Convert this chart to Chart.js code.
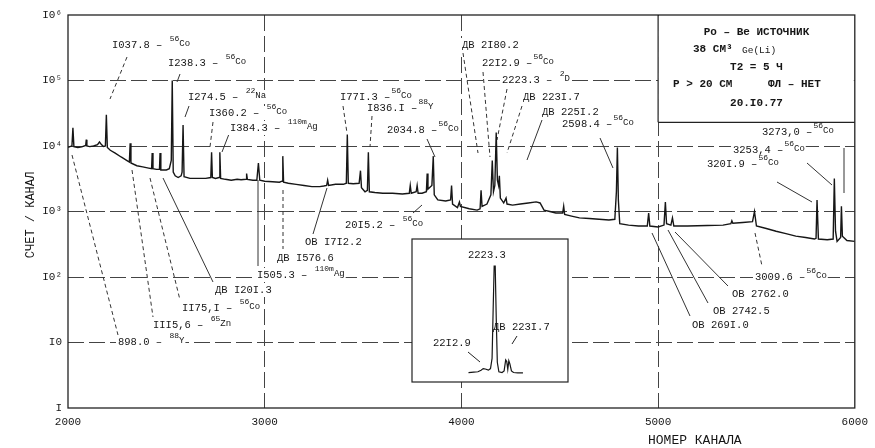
<!DOCTYPE html>
<html>
<head>
<meta charset="utf-8">
<script src="https://cdn.jsdelivr.net/npm/chart.js@4.4.1/dist/chart.umd.min.js"></script>
<style>
  html, body { margin: 0; padding: 0; background: #fff; }
  #wrap { position: relative; width: 875px; height: 448px; }
  #main { position: absolute; left: 0; top: 0; }
  #inset { position: absolute; left: 413px; top: 240px; }
</style>
</head>
<body>
<div id="wrap">
  <canvas id="main" width="875" height="448"></canvas>
  <canvas id="inset" width="155" height="142"></canvas>
</div>
<script>
// ---- данные спектра (номер канала / счет) ----
const channels = [
  2000, 2010, 2020, 2025, 2030, 2050, 2070, 2090, 2093, 2096, 2110, 2130, 2150, 2160, 2170, 2180, 2190, 2195, 2200,
  2215, 2240, 2270, 2300, 2312, 2316, 2320, 2350, 2380, 2410, 2425, 2428, 2432, 2450, 2465, 2468, 2472, 2500, 2515,
  2525, 2530, 2535, 2545, 2560, 2575, 2580, 2585, 2590,
  2620, 2660, 2700, 2726, 2730, 2734, 2750, 2768, 2772, 2776, 2800, 2830, 2860, 2880, 2905, 2908, 2912, 2940, 2960,
  2968, 2975, 3000, 3040, 3075, 3088, 3092, 3096,
  3120, 3160, 3200, 3240, 3280, 3300, 3315, 3320, 3325, 3360, 3400, 3415, 3420, 3425, 3450, 3480, 3487, 3492, 3510,
  3522, 3527, 3532,
  3560, 3600, 3650, 3700, 3735, 3740, 3745, 3770, 3775, 3780, 3800, 3822, 3826, 3830, 3850, 3857, 3862, 3880, 3920,
  3945, 3950, 3955, 3980, 3990, 3995,
  4040, 4080, 4095, 4100, 4105, 4130, 4150, 4157, 4163, 4170, 4177, 4183, 4189, 4193, 4198, 4215, 4227, 4232, 4260,
  4300, 4340, 4380, 4400, 4420, 4450, 4480, 4515, 4520, 4525,
  4560, 4600, 4650, 4700, 4750, 4780, 4788, 4793, 4798, 4805, 4850, 4900, 4945, 4952, 4958, 5000, 5030, 5037, 5043,
  5065, 5073, 5080, 5150, 5250, 5330, 5370, 5375, 5380, 5430, 5480, 5490, 5500,
  5550, 5600, 5650, 5700, 5750, 5795, 5803, 5808, 5815, 5860, 5890, 5896, 5902, 5910, 5928, 5932, 5937, 5960, 6000
];
const counts = [
  9500, 9800, 10000, 19000, 9800, 9500, 9700, 10200, 12500, 10000, 9800, 10000, 10500, 11500, 10500, 9800, 10000, 30000, 9500,
  8600, 7800, 6800, 6000, 5700, 11000, 5500, 5000, 4800, 4600, 4500, 7800, 4500, 4400, 4400, 7800, 4300, 4300, 4500,
  6000, 100000, 4000, 3500, 3300, 3500, 4000, 21000, 3400,
  3200, 3200, 3200, 3300, 8000, 3300, 3200, 3300, 8000, 3200, 3100, 3000, 3100, 3050, 3100, 3800, 3100, 3000, 3000,
  5500, 3000, 2900, 2850, 2800, 2900, 7000, 2800,
  2700, 2600, 2500, 2400, 2400, 2450, 2500, 3000, 2500, 2600, 2600, 2700, 15000, 2700, 2650, 2700, 4200, 2300, 2000,
  2100, 8000, 2000,
  1950, 1900, 1900, 1850, 1900, 2500, 1900, 2000, 2500, 1900, 1900, 2000, 3800, 2200, 2500, 7000, 1800, 1500, 1450,
  1500, 2500, 1300, 1150, 1400, 1200,
  1100, 1050, 1100, 2100, 1200, 1300, 1800, 6000, 2000, 2500, 16000, 3000, 2500, 3500, 1600, 1350, 1600, 1300, 1250,
  1300, 1350, 1400, 1350, 1050, 1000, 950, 950, 1200, 900,
  850, 800, 780, 760, 740, 760, 2000, 9500, 1500, 650, 620, 600, 600, 950, 600, 580, 620, 1400, 650,
  620, 800, 600, 600, 610, 620, 650, 720, 660, 680, 700, 1000, 600,
  550, 500, 460, 420, 400, 380, 390, 1500, 380, 370, 380, 3200, 500, 350, 400, 1200, 420, 360, 350
];

// ---- врезка: пик 2223.3 в растянутом масштабе (кэВ / счет) ----
const insetKeV = [2198, 2203, 2207, 2210, 2212, 2214, 2217, 2219, 2220.5, 2221.5, 2222.5, 2223.5, 2224.5, 2225.5,
  2227, 2230, 2232, 2233.5, 2234.5, 2235.5, 2236.5, 2237.5, 2239, 2241, 2245, 2250];
const insetCounts = [1200, 1250, 1300, 1500, 1700, 1650, 1500, 1700, 3000, 9000, 14700, 14700, 8000, 2500,
  1300, 1200, 1400, 2800, 2600, 1600, 2700, 2300, 1400, 1200, 1150, 1150];

// ---- оси ----
const xTicks = [2000, 3000, 4000, 5000, 6000];
const yTicks = [1, 10, 100, 1000, 10000, 100000, 1000000];
const yTickLabels = ['I', 'I0', 'I0²', 'I0³', 'I0⁴', 'I0⁵', 'I0⁶'];

// ---- подписи линий: текст, верхний индекс, хвост ----
const noteTexts = [
  ['I037.8 – ', '56', 'Co'], ['I238.3 – ', '56', 'Co'], ['I274.5 – ', '22', 'Na'], ['I360.2 – ', '56', 'Co'],
  ['I384.3 – ', '110m', 'Ag'], ['I77I.3 –', '56', 'Co'], ['I836.I –', '88', 'Y'], ['2034.8 –', '56', 'Co'],
  ['ДВ 2I80.2', '', ''], ['22I2.9 –', '56', 'Co'], ['2223.3 – ', '2', 'D'], ['ДВ 223I.7', '', ''],
  ['ДВ 225I.2', '', ''], ['2598.4 –', '56', 'Co'], ['3273,0 –', '56', 'Co'], ['3253,4 –', '56', 'Co'],
  ['320I.9 –', '56', 'Co'], ['3009.6 –', '56', 'Co'], ['ОВ 2762.0', '', ''], ['ОВ 2742.5', '', ''],
  ['ОВ 269I.0', '', ''], ['20I5.2 – ', '56', 'Co'], ['ОВ I7I2.2', '', ''], ['ДВ I576.6', '', ''],
  ['I505.3 – ', '110m', 'Ag'], ['ДВ I20I.3', '', ''], ['II75,I – ', '56', 'Co'], ['III5,6 – ', '65', 'Zn'],
  ['898.0 – ', '88', 'Y']
];
// x, y текста; x1, y1, x2, y2 выноски; штрих
const notePlaces = [
  [112, 45, 127, 57, 110, 99, 1], [168, 63, 180, 74, 177, 82, 0], [188, 97, 189, 106, 185, 117, 0],
  [209, 113, 213, 122, 210, 147, 1], [230, 128, 229, 134, 222, 152, 0], [340, 97, 343, 106, 347, 133, 1],
  [367, 108, 372, 116, 370, 147, 1], [387, 130, 427, 139, 435, 157, 0], [462, 45, 463, 53, 478, 153, 1],
  [482, 63, 483, 72, 490, 157, 1], [502, 80, 507, 89, 497, 140, 1], [523, 97, 522, 106, 507, 153, 1],
  [542, 112, 542, 120, 527, 160, 0], [562, 124, 600, 138, 613, 168, 0], [762, 132, 844, 148, 844, 193, 0],
  [733, 150, 807, 163, 832, 185, 0], [707, 164, 777, 182, 812, 202, 0], [755, 277, 755, 233, 762, 266, 1],
  [732, 294, 675, 232, 728, 286, 0], [713, 311, 668, 230, 708, 303, 0], [692, 325, 652, 233, 690, 316, 0],
  [345, 225, 413, 213, 422, 205, 0], [305, 242, 313, 234, 327, 188, 0], [277, 258, 283, 190, 283, 249, 1],
  [257, 275, 258, 180, 258, 266, 0], [215, 290, 163, 178, 213, 282, 0], [182, 308, 150, 178, 180, 300, 1],
  [153, 325, 132, 170, 153, 317, 1], [118, 342, 72, 155, 118, 335, 1]
];

const FONT = '"Liberation Mono", "DejaVu Sans Mono", monospace';
const INK = '#161616';

function drawNote(ctx, parts, x, y) {
  const [main, sup, tail] = parts;
  ctx.font = `10.5px ${FONT}`;
  const w1 = ctx.measureText(main).width;
  ctx.font = `8px ${FONT}`;
  const w2 = ctx.measureText(sup).width;
  ctx.font = `9px ${FONT}`;
  const w3 = ctx.measureText(tail).width;
  ctx.fillStyle = '#fff';
  ctx.fillRect(x - 2, y - 7, w1 + w2 + w3 + 4, 14);
  ctx.fillStyle = INK;
  ctx.textBaseline = 'middle';
  ctx.textAlign = 'left';
  ctx.font = `10.5px ${FONT}`;
  ctx.fillText(main, x, y);
  ctx.font = `8px ${FONT}`;
  ctx.fillText(sup, x + w1 + 1, y - 6);
  ctx.font = `9px ${FONT}`;
  ctx.fillText(tail, x + w1 + w2 + 1, y - 1);
}

function line(ctx, x1, y1, x2, y2, dash) {
  ctx.save();
  ctx.setLineDash(dash ? [4, 3] : []);
  ctx.beginPath();
  ctx.moveTo(x1, y1);
  ctx.lineTo(x2, y2);
  ctx.stroke();
  ctx.restore();
}

/* ---- рамка, таблички, подписи (рисуются под спектром) ---- */
const decor = {
  id: 'decor',
  beforeDatasetsDraw(chart) {
    const ctx = chart.ctx;
    const a = chart.chartArea;
    const xs = chart.scales.x, ys = chart.scales.y;
    ctx.save();

    // табличка с условиями измерения
    const bx = xs.getPixelForValue(5000), by = ys.getPixelForValue(23000);
    ctx.fillStyle = '#fff';
    ctx.fillRect(bx, a.top + 1, a.right - bx - 1, by - a.top - 1);
    ctx.strokeStyle = '#222';
    ctx.lineWidth = 1.2;
    line(ctx, bx, a.top, bx, by);
    line(ctx, bx, by, a.right, by);
    ctx.fillStyle = INK;
    ctx.textBaseline = 'middle';
    ctx.textAlign = 'center';
    const cx = (bx + a.right) / 2;
    ctx.font = `bold 11px ${FONT}`;
    ctx.fillText('Po – Be ИСТОЧНИК', cx, 32);
    ctx.textAlign = 'left';
    ctx.fillText('38 CM³', 693, 49);
    ctx.font = `9.5px ${FONT}`;
    ctx.fillText('Ge(Li)', 742, 50);
    ctx.font = `bold 11px ${FONT}`;
    ctx.textAlign = 'center';
    ctx.fillText('T2 = 5 Ч', cx, 67);
    ctx.textAlign = 'left';
    ctx.fillText('P > 20 CM', 673, 84);
    ctx.fillText('ФЛ – НЕТ', 768, 84);
    ctx.textAlign = 'center';
    ctx.fillText('20.I0.77', cx, 103);

    // врезка
    ctx.fillStyle = '#fff';
    ctx.fillRect(412, 239, 156, 143);
    ctx.strokeStyle = '#222';
    ctx.lineWidth = 1.2;
    ctx.strokeRect(412, 239, 156, 143);
    drawNote(ctx, ['2223.3', '', ''], 468, 255);
    drawNote(ctx, ['ДВ 223I.7', '', ''], 493, 327);
    drawNote(ctx, ['22I2.9', '', ''], 433, 343);
    ctx.lineWidth = 1;
    line(ctx, 517, 336, 512, 344);
    line(ctx, 468, 352, 480, 362);

    // подписи пиков
    ctx.strokeStyle = '#333';
    ctx.lineWidth = 1;
    notePlaces.forEach(p => line(ctx, p[2], p[3], p[4], p[5], p[6]));
    notePlaces.forEach((p, i) => drawNote(ctx, noteTexts[i], p[0], p[1]));

    // названия осей
    ctx.fillStyle = INK;
    ctx.font = `12px ${FONT}`;
    ctx.save();
    ctx.translate(31, 215);
    ctx.rotate(-Math.PI / 2);
    ctx.textAlign = 'center';
    ctx.fillText('СЧЕТ / КАНАЛ', 0, 0);
    ctx.restore();
    ctx.font = `13px ${FONT}`;
    ctx.textAlign = 'left';
    ctx.fillText('НОМЕР КАНАЛА', 648, 441);
    ctx.restore();
  },
  afterDatasetsDraw(chart) {
    const ctx = chart.ctx;
    const a = chart.chartArea;
    ctx.save();
    ctx.strokeStyle = '#222';
    ctx.lineWidth = 1.3;
    ctx.strokeRect(a.left, a.top, a.right - a.left, a.bottom - a.top);
    ctx.restore();
  }
};

new Chart(document.getElementById('main'), {
  type: 'line',
  data: {
    datasets: [{
      data: channels.map((c, i) => ({ x: c, y: counts[i] })),
      borderColor: INK,
      borderWidth: 1.4,
      pointRadius: 0,
      tension: 0
    }]
  },
  options: {
    responsive: false,
    animation: false,
    devicePixelRatio: 1,
    layout: { padding: { top: 15, right: 18, left: 0, bottom: 0 } },
    plugins: { legend: { display: false }, tooltip: { enabled: false } },
    scales: {
      x: {
        type: 'linear', min: 2000, max: 6000,
        afterBuildTicks: s => { s.ticks = xTicks.map(v => ({ value: v })); },
        afterFit: s => { s.height = 40; },
        ticks: { font: { family: FONT, size: 11 }, color: INK, padding: 7, maxRotation: 0, callback: v => String(v) },
        grid: {
          color: c => (c.tick && (c.tick.value === 2000 || c.tick.value === 6000)) ? 'rgba(0,0,0,0)' : '#444',
          lineWidth: 1, drawTicks: false
        },
        border: { display: false, dash: [16, 5] }
      },
      y: {
        type: 'logarithmic', min: 1, max: 1000000,
        afterBuildTicks: s => { s.ticks = yTicks.map(v => ({ value: v })); },
        afterFit: s => { s.width = 68; },
        ticks: { font: { family: FONT, size: 11 }, color: INK, padding: 6, callback: (v, i) => yTickLabels[i] },
        grid: {
          color: c => (c.tick && (c.tick.value === 1 || c.tick.value === 1000000)) ? 'rgba(0,0,0,0)' : '#444',
          lineWidth: 1, drawTicks: false
        },
        border: { display: false, dash: [16, 5] }
      }
    }
  },
  plugins: [decor]
});

/* ---- врезка ---- */
new Chart(document.getElementById('inset'), {
  type: 'line',
  data: {
    datasets: [{
      data: insetKeV.map((k, i) => ({ x: k, y: insetCounts[i] })),
      borderColor: INK,
      borderWidth: 1.2,
      pointRadius: 0,
      tension: 0
    }]
  },
  options: {
    responsive: false,
    animation: false,
    devicePixelRatio: 1,
    layout: { padding: 0 },
    plugins: { legend: { display: false }, tooltip: { enabled: false } },
    scales: {
      x: { type: 'linear', min: 2145, max: 2293, display: false },
      y: { type: 'linear', min: 0, max: 18000, display: false }
    }
  }
});
</script>
</body>
</html>
